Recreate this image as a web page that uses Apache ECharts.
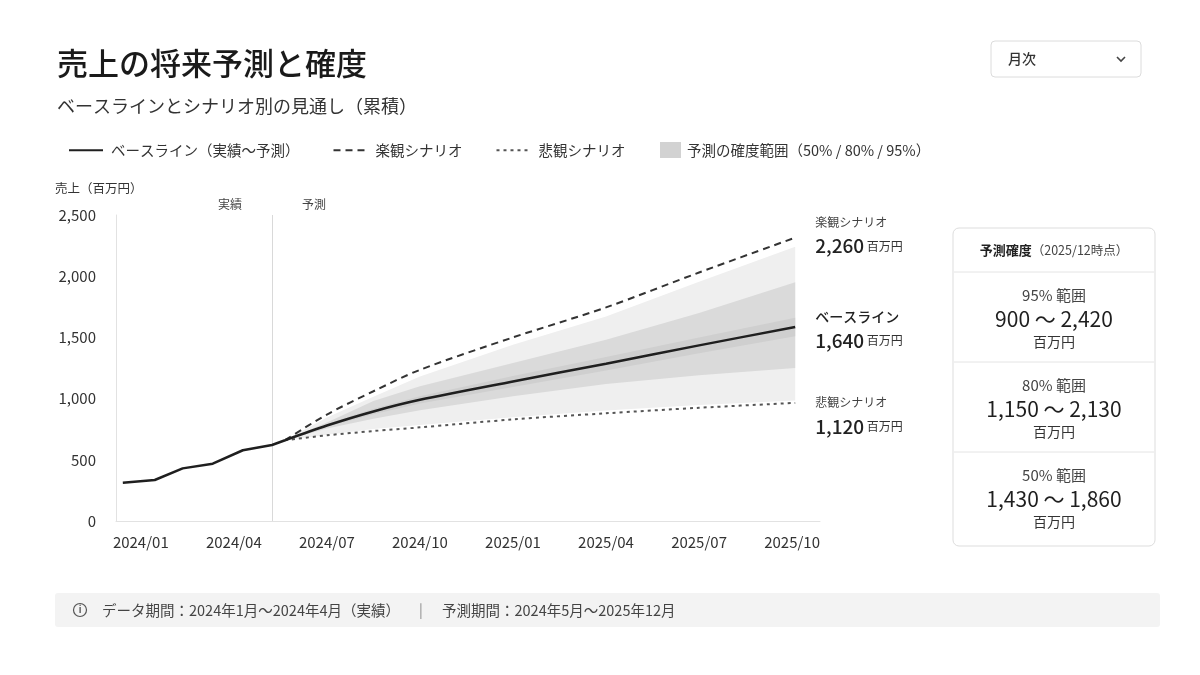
<!DOCTYPE html>
<html lang="ja">
<head>
<meta charset="utf-8">
<title>売上の将来予測と確度</title>
<script src="https://cdn.jsdelivr.net/npm/echarts@6/dist/echarts.min.js"></script>
<style>
  html, body { margin: 0; padding: 0; background: #ffffff; }
  #chart { width: 1200px; height: 675px; }
</style>
</head>
<body>
<div id="chart"></div>
<script>
const FONT = '"Noto Sans CJK JP", "Noto Sans", sans-serif';

// x = months counted from 2024/01 (0 = 2024/01)
const tickMonths = [0, 3, 6, 9, 12, 15, 18, 21];
const tickLabels = ['2024/01', '2024/04', '2024/07', '2024/10', '2025/01', '2025/04', '2025/07', '2025/10'];

// actuals (cumulative sales, million yen)
const actualMonths = [-0.58, 0.45, 1.35, 2.32, 3.29, 4.23, 4.65];
const actualSales = [313, 335, 430, 468, 578, 621, 660];
const dividerMonth = 4.23;

// forecast
const forecastMonths = [4.65, 6, 7.5, 9, 12, 15, 18, 21.1];
const baseline = [660, 780, 895, 990, 1140, 1285, 1435, 1585];
const optimistic = [660, 870, 1060, 1235, 1500, 1745, 2030, 2315];
const pessimistic = [660, 700, 735, 765, 830, 880, 925, 965];
const lo95 = [660, 705, 752, 785, 848, 902, 948, 985];
const hi95 = [660, 845, 1015, 1180, 1440, 1670, 1955, 2240];
const lo80 = [660, 755, 835, 905, 1020, 1120, 1190, 1250];
const hi80 = [660, 805, 980, 1100, 1290, 1480, 1700, 1950];
const lo50 = [660, 770, 872, 960, 1095, 1230, 1370, 1510];
const hi50 = [660, 792, 918, 1020, 1185, 1340, 1500, 1660];

// labels at the end of the lines
const endNames = ['楽観シナリオ', 'ベースライン', '悲観シナリオ'];
const endTotals = ['2,260', '1,640', '1,120'];

// side card (2025/12)
const confLevels = ['95% 範囲', '80% 範囲', '50% 範囲'];
const confLow = [900, 1150, 1430];
const confHigh = [2420, 2130, 1860];

const baseName = 'ベースライン（実績〜予測）';
const optName = '楽観シナリオ';
const pesName = '悲観シナリオ';
const bandName = '予測の確度範囲（50% / 80% / 95%）';

const pair = (xs, ys) => xs.map((x, i) => [x, ys[i]]);
const fmt = (v) => v.toLocaleString('en-US');

// filled range between lo and hi, positioned through the axes
function band(lo, hi, color) {
    return {
        name: bandName, type: 'custom', silent: true, z: 1,
        data: [0],
        itemStyle: { color: color },
        renderItem: (params, api) => {
            const upper = forecastMonths.map((m, i) => api.coord([m, hi[i]]));
            const lower = forecastMonths.map((m, i) => api.coord([m, lo[i]])).reverse();
            return {
                type: 'polygon',
                shape: { points: upper.concat(lower) },
                style: { fill: color },
            };
        },
    };
}

function endLabel(i, offsetY, strong) {
    return {
        show: true,
        offset: [12, offsetY],
        formatter: () => `{n|${endNames[i]}}\n{v|${endTotals[i]}}{u| 百万円}`,
        rich: {
            n: { fontFamily: FONT, fontSize: strong ? 14 : 12, fontWeight: strong ? 500 : 'normal', color: strong ? '#222' : '#444', lineHeight: 23 },
            v: { fontFamily: FONT, fontSize: 19, fontWeight: 500, color: '#222', lineHeight: 24 },
            u: { fontFamily: FONT, fontSize: 12, color: '#333', lineHeight: 24 },
        },
    };
}

// right card + footer + dropdown
const graphics = [];
graphics.push({
    type: 'rect', shape: { x: 991, y: 41, width: 150, height: 36, r: 4 },
    style: { fill: '#fff', stroke: '#dcdcdc', lineWidth: 1 },
});
graphics.push({
    type: 'text', x: 1008, y: 59,
    style: { text: '月次', font: `500 14px ${FONT}`, fill: '#333', verticalAlign: 'middle' },
});
graphics.push({
    type: 'polyline', shape: { points: [[1117, 57], [1121, 61], [1125, 57]] },
    style: { stroke: '#444', lineWidth: 1.6, fill: null },
});

graphics.push({
    type: 'rect', shape: { x: 953, y: 228, width: 202, height: 318, r: 6 },
    style: { fill: '#fff', stroke: '#dddddd', lineWidth: 1 },
});
graphics.push({
    type: 'text', x: 1054, y: 250,
    style: {
        text: '{h|予測確度}{s|（2025/12時点）}',
        align: 'center', verticalAlign: 'middle',
        rich: {
            h: { font: `bold 13px ${FONT}`, fill: '#222' },
            s: { font: `12.5px ${FONT}`, fill: '#444' },
        },
    },
});
confLevels.forEach((lv, i) => {
    const top = 272 + i * 90;
    graphics.push({
        type: 'line', shape: { x1: 954, y1: top, x2: 1154, y2: top },
        style: { stroke: '#e4e4e4', lineWidth: 1 },
    });
    graphics.push({
        type: 'text', x: 1054, y: top + 23,
        style: { text: lv, font: `15px ${FONT}`, fill: '#444', align: 'center', verticalAlign: 'middle' },
    });
    graphics.push({
        type: 'text', x: 1054, y: top + 47,
        style: { text: `${fmt(confLow[i])} 〜 ${fmt(confHigh[i])}`, font: `21px ${FONT}`, fill: '#1f1f1f', align: 'center', verticalAlign: 'middle' },
    });
    graphics.push({
        type: 'text', x: 1054, y: top + 70,
        style: { text: '百万円', font: `14px ${FONT}`, fill: '#333', align: 'center', verticalAlign: 'middle' },
    });
});

graphics.push({
    type: 'rect', shape: { x: 55, y: 593, width: 1105, height: 34, r: 3 },
    style: { fill: '#f3f3f3' },
});
graphics.push({
    type: 'circle', shape: { cx: 80, cy: 610, r: 6.5 },
    style: { fill: null, stroke: '#555', lineWidth: 1.2 },
});
graphics.push({
    type: 'text', x: 80, y: 610,
    style: { text: 'i', font: `bold 9px ${FONT}`, fill: '#555', align: 'center', verticalAlign: 'middle' },
});
graphics.push({
    type: 'text', x: 102, y: 610,
    style: { text: 'データ期間：2024年1月〜2024年4月（実績）', font: `14.5px ${FONT}`, fill: '#444', verticalAlign: 'middle' },
});
graphics.push({
    type: 'text', x: 421, y: 610,
    style: { text: '|', font: `14px ${FONT}`, fill: '#888', align: 'center', verticalAlign: 'middle' },
});
graphics.push({
    type: 'text', x: 442, y: 610,
    style: { text: '予測期間：2024年5月〜2025年12月', font: `14.5px ${FONT}`, fill: '#444', verticalAlign: 'middle' },
});

const chart = echarts.init(document.getElementById('chart'));
chart.setOption({
    animation: false,
    backgroundColor: '#ffffff',
    textStyle: { fontFamily: FONT },
    title: {
        left: 52, top: 40,
        text: '売上の将来予測と確度',
        subtext: 'ベースラインとシナリオ別の見通し（累積）',
        itemGap: 14,
        textStyle: { fontFamily: FONT, fontSize: 31, fontWeight: 500, color: '#1a1a1a', lineHeight: 36 },
        subtextStyle: { fontFamily: FONT, fontSize: 18, color: '#333', lineHeight: 22 },
    },
    legend: [
        {
            left: 63, top: 138,
            itemWidth: 34, itemHeight: 14, itemGap: 33,
            itemStyle: { opacity: 0 },
            textStyle: { fontFamily: FONT, fontSize: 14.5, color: '#333', padding: [0, 0, 0, 3] },
            data: [baseName, optName, pesName],
        },
        {
            left: 655, top: 137,
            itemWidth: 21, itemHeight: 16,
            textStyle: { fontFamily: FONT, fontSize: 14.5, color: '#333', padding: [0, 0, 0, 1] },
            data: [{ name: bandName, icon: 'rect', itemStyle: { color: '#d2d2d2' } }],
        },
    ],
    grid: { left: 116, right: 380, top: 215, bottom: 154 },
    xAxis: {
        type: 'value',
        min: -0.8, max: 21.9,
        axisLine: { show: true, onZero: false, lineStyle: { color: '#e2e2e2' } },
        axisTick: { show: false },
        splitLine: { show: false },
        axisLabel: {
            customValues: tickMonths,
            formatter: (v) => tickLabels[tickMonths.indexOf(v)] || '',
            fontFamily: FONT, fontSize: 15, color: '#333', margin: 14,
        },
    },
    yAxis: {
        type: 'value',
        min: 0, max: 2500, interval: 500,
        name: '売上（百万円）',
        nameLocation: 'end', nameGap: 20,
        nameTextStyle: { fontFamily: FONT, fontSize: 12.5, color: '#333', align: 'left', padding: [0, 0, 0, -61] },
        axisLine: { show: true, onZero: false, lineStyle: { color: '#e2e2e2' } },
        axisTick: { show: false },
        splitLine: { show: false },
        axisLabel: {
            formatter: (v) => fmt(v),
            fontFamily: FONT, fontSize: 15, color: '#333', margin: 20,
        },
    },
    series: [
        band(lo95, hi95, '#efefef'),
        band(lo80, hi80, '#dadada'),
        band(lo50, hi50, '#cfcfcf'),
        {
            name: baseName, type: 'line', z: 5,
            data: pair(actualMonths, actualSales),
            symbol: 'none',
            lineStyle: { color: '#1f1f1f', width: 2.5 },
            itemStyle: { color: '#1f1f1f' },
            markLine: {
                silent: true, symbol: 'none',
                lineStyle: { color: '#d9d9d9', width: 1, type: 'solid' },
                label: {
                    position: 'end',
                    formatter: '{a|実績}{b|予測}',
                    rich: {
                        a: { fontFamily: FONT, fontSize: 12, color: '#444', padding: [0, 30, 0, 0] },
                        b: { fontFamily: FONT, fontSize: 12, color: '#444', padding: [0, 0, 0, 30] },
                    },
                },
                data: [{ xAxis: dividerMonth }],
            },
        },
        {
            name: baseName, type: 'line', z: 5,
            data: pair(forecastMonths, baseline),
            symbol: 'none', smooth: 0.3,
            lineStyle: { color: '#1f1f1f', width: 2.5 },
            itemStyle: { color: '#1f1f1f' },
            endLabel: endLabel(1, 2, true),
        },
        {
            name: optName, type: 'line', z: 4,
            data: pair(forecastMonths, optimistic),
            symbol: 'none', smooth: 0.3,
            lineStyle: { color: '#333', width: 2, type: [7, 5] },
            itemStyle: { color: '#333' },
            endLabel: endLabel(0, -3, false),
        },
        {
            name: pesName, type: 'line', z: 4,
            data: pair(forecastMonths, pessimistic),
            symbol: 'none', smooth: 0.3,
            lineStyle: { color: '#555', width: 2, type: [3, 4] },
            itemStyle: { color: '#555' },
            endLabel: endLabel(2, 12, false),
        },
    ],
    graphic: graphics,
});
</script>
</body>
</html>
